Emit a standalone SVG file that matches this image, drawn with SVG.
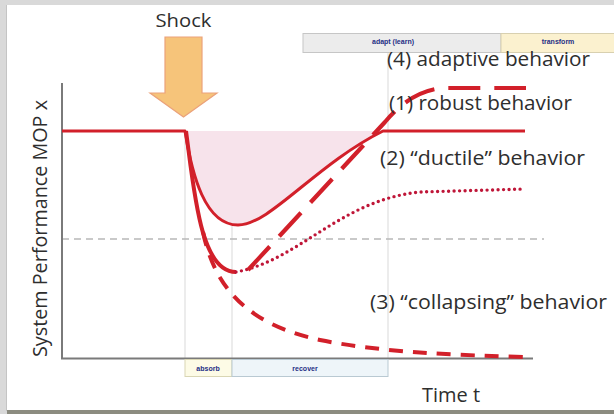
<svg xmlns="http://www.w3.org/2000/svg" width="614" height="414" viewBox="0 0 614 414">
<style>
.lbl{font-family:"Open Sans","Liberation Sans",sans-serif;fill:#2e2e2e;font-size:20px}
.ph{font-family:"Liberation Sans",Arial,sans-serif;font-size:7px;font-weight:bold;fill:#1f2f85;text-anchor:middle}
.grid{stroke:#d9d9d9;stroke-width:1;fill:none}
.red{stroke:#d2202a;fill:none;stroke-linecap:butt;stroke-linejoin:round}
</style>
<rect x="0" y="0" width="614" height="414" fill="#ffffff"/>
<rect x="0" y="0" width="614" height="5" fill="#d9d9d9"/>
<rect x="0" y="0" width="7" height="414" fill="#d9d9d9"/>
<line x1="6.5" y1="5" x2="6.5" y2="411" stroke="#c4c4c4"/>
<rect x="7" y="410" width="607" height="4" fill="#8c8c80"/>

<g id="pink-area">
<path d="M185,131 C192,175 205,225 238,225 C270,225 315,165 383,131 Z" fill="#f7e3eb"/>
</g>

<g id="grid">
<line class="grid" x1="185" y1="131" x2="185" y2="358"/>
<line class="grid" x1="232" y1="226" x2="232" y2="358"/>
<line class="grid" x1="388" y1="53" x2="388" y2="358"/>
<line x1="62" y1="239" x2="544" y2="239" stroke="#b8b8b8" stroke-width="1.5" stroke-dasharray="7 5"/>
</g>

<g id="axes">
<line x1="62" y1="83" x2="62" y2="359" stroke="#7a7a7a" stroke-width="2"/>
<line x1="61" y1="358.5" x2="533" y2="358.5" stroke="#7a7a7a" stroke-width="2"/>
</g>

<g id="phase-absorb">
<rect x="185" y="359.5" width="47" height="17" fill="#fdfbe6" stroke="#d9d6b4"/>
<text class="ph" x="208" y="370.5">absorb</text>
</g>
<g id="phase-recover">
<rect x="232" y="359.5" width="156" height="17" fill="#eef5f9" stroke="#b9c9d2"/>
<text class="ph" x="305" y="370.5">recover</text>
</g>
<g id="phase-adapt">
<rect x="303" y="33.5" width="198" height="19" fill="#ececec" stroke="#c6c6c6"/>
<text class="ph" x="393" y="43.5">adapt (learn)</text>
</g>
<g id="phase-transform">
<rect x="501" y="33.5" width="114" height="19" fill="#fbf1cf" stroke="#d8d0b0"/>
<text class="ph" x="558" y="43.5">transform</text>
</g>

<g id="shock">
<text x="183.5" y="27" font-family="'Open Sans','Liberation Sans',sans-serif" font-size="18" fill="#2e2e2e" text-anchor="middle" textLength="56" lengthAdjust="spacingAndGlyphs">Shock</text>
<path d="M165,37 H202 V93 H217 L183.5,117 L150,93 H165 Z" fill="#f6c47a" stroke="#eba27a" stroke-width="1.2"/>
</g>

<g id="connectors">
<path id="robust" class="red" stroke-width="3" d="M62,131 H185 C192,175 205,225 238,225 C270,225 315,165 383,131 L525,131"/>
<path id="ductile-drop" class="red" stroke-width="4" d="M186,131 C194,190 200,272 236,272"/>
<path id="ductile" d="M236,272 C300,260 340,200 420,192 L525,189" fill="none" stroke="#bf1638" stroke-width="3.4" stroke-linecap="round" stroke-dasharray="0 5.5"/>
<path id="adaptive" class="red" stroke-width="4.2" stroke-dasharray="32 14" d="M248,270 L385,122 C400,104 420,89 445,88 L526,88"/>
<path id="collapsing" class="red" stroke-width="4" stroke-dasharray="14 10" d="M203,232 C215,290 250,325 320,340 C380,352 450,355 526,357"/>
</g>

<g id="labels">
<text class="lbl" x="387" y="66" textLength="203" lengthAdjust="spacingAndGlyphs">(4) adaptive behavior</text>
<text class="lbl" x="389" y="110" textLength="183" lengthAdjust="spacingAndGlyphs">(1) robust behavior</text>
<text class="lbl" x="380" y="165" textLength="205" lengthAdjust="spacingAndGlyphs">(2) “ductile” behavior</text>
<text class="lbl" x="370" y="309" textLength="237" lengthAdjust="spacingAndGlyphs">(3) “collapsing” behavior</text>
<text class="lbl" x="422" y="402" textLength="58" lengthAdjust="spacingAndGlyphs">Time t</text>
<text class="lbl" transform="translate(47,357) rotate(-90)" x="0" y="0" textLength="257" lengthAdjust="spacingAndGlyphs">System Performance MOP x</text>
</g>
</svg>
